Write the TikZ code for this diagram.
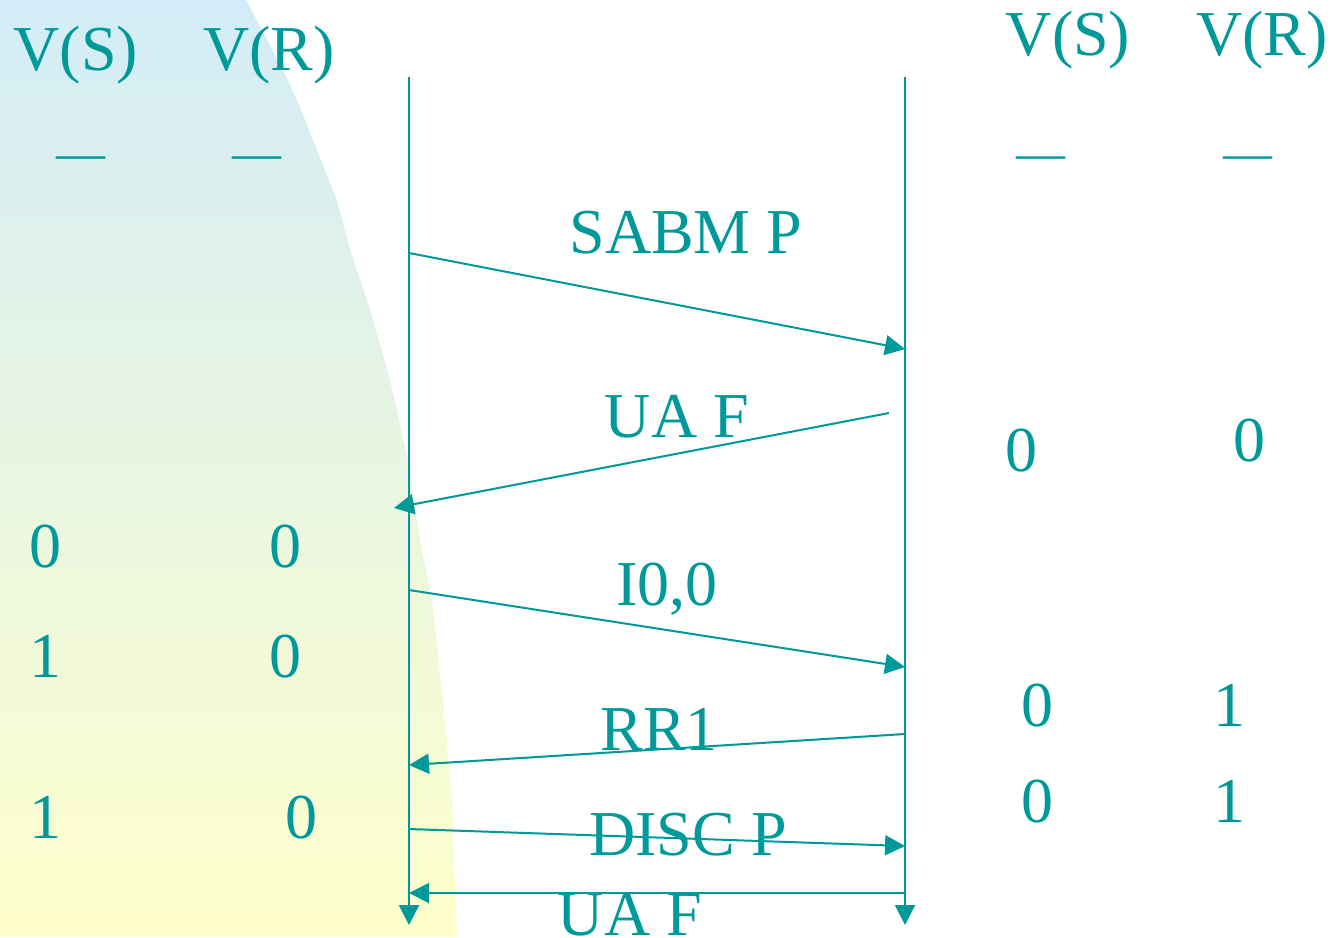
\documentclass[tikz,border=0pt]{standalone}
\usepackage{fontspec}
\setmainfont{Liberation Serif}
\usetikzlibrary{arrows.meta}
\definecolor{tealink}{RGB}{0,153,153}
\definecolor{skyA}{RGB}{211,236,247}
\definecolor{creamB}{RGB}{255,255,204}

\begin{document}
\begin{tikzpicture}[x=0.5pt,y=-0.5pt,
  lbl/.style={text=tealink, font=\fontsize{32}{38}\selectfont, anchor=base, inner sep=0pt},
  dashmark/.style={text=tealink, font=\fontsize{24.5}{28}\selectfont, anchor=base, inner sep=0pt},
  lifeline/.style={draw=tealink, line width=1pt, -{Triangle[length=10pt,width=10pt]}},
  msg/.style={draw=tealink, line width=1pt, -{Triangle[length=10pt,width=10pt]}}]

\useasboundingbox (0,0) rectangle (1331,937);

% soft backdrop on the left
\shade[top color=skyA, bottom color=creamB]
  (0,0) -- (246,0) -- (262,30) -- (288,80) -- (300,107) -- (313,140)
  -- (337,200) -- (350,250) -- (367,300) -- (373,320) -- (390,380)
  -- (408,460) -- (420,540) -- (432,600) -- (443,700) -- (452,800)
  -- (457,937) -- (0,937) -- cycle;

% column headings
\node[lbl] (lvs) at (76,70) {V(S)};
\node[lbl] (lvr) at (269,70) {V(R)};
\node[lbl] (rvs) at (1068,55) {V(S)};
\node[lbl] (rvr) at (1262,55) {V(R)};
\node[dashmark] (lds) at (81,169) {—};
\node[dashmark] (ldr) at (257,169) {—};
\node[dashmark] (rds) at (1041,169) {—};
\node[dashmark] (rdr) at (1248,169) {—};

% lifelines
\coordinate (Ltop) at (409,77);
\coordinate (Lbot) at (409,925);
\coordinate (Rtop) at (905,77);
\coordinate (Rbot) at (905,925);
\draw[lifeline] (Ltop) -- (Lbot);
\draw[lifeline] (Rtop) -- (Rbot);

% message end points
\coordinate (m1s) at (409,253);
\coordinate (m1e) at (905,349);
\coordinate (m2s) at (889,413);
\coordinate (m2e) at (394,508);
\coordinate (m3s) at (409,590);
\coordinate (m3e) at (905,667);
\coordinate (m4s) at (905,734);
\coordinate (m4e) at (409,765);
\coordinate (m5s) at (409,829);
\coordinate (m5e) at (905,846);
\coordinate (m6s) at (905,893);
\coordinate (m6e) at (409,893);

\draw[msg] (m1s) -- (m1e);
\draw[msg] (m2s) -- (m2e);
\draw[msg] (m3s) -- (m3e);
\draw[msg] (m4s) -- (m4e);
\draw[msg] (m5s) -- (m5e);
\draw[msg] (m6s) -- (m6e);

% message labels
\node[lbl] (t1) at (686,253) {SABM P};
\node[lbl] (t2) at (677,437) {UA F};
\node[lbl] (t3) at (667,605) {I0,0};
\node[lbl] (t4) at (659,750) {RR1};
\node[lbl] (t5) at (688,855) {DISC P};
\node[lbl] (t6) at (630,935) {UA F};

% sender state values
\node[lbl] (a1) at (45,567) {0};
\node[lbl] (b1) at (285,567) {0};
\node[lbl] (a2) at (45,677) {1};
\node[lbl] (b2) at (285,677) {0};
\node[lbl] (a3) at (45,838) {1};
\node[lbl] (b3) at (301,838) {0};

% receiver state values
\node[lbl] (c1) at (1021,471) {0};
\node[lbl] (d1) at (1249,461) {0};
\node[lbl] (c2) at (1037,726) {0};
\node[lbl] (d2) at (1229,726) {1};
\node[lbl] (c3) at (1037,822) {0};
\node[lbl] (d3) at (1229,822) {1};
\end{tikzpicture}
\end{document}
